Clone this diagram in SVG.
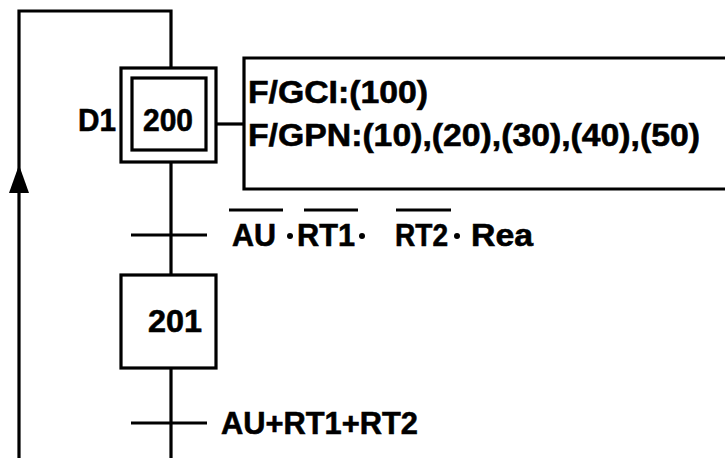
<svg xmlns="http://www.w3.org/2000/svg" width="725" height="458" viewBox="0 0 725 458">
<style>
.ln{stroke:#000;stroke-width:3.2;fill:none}
.bx{stroke:#000;stroke-width:3.2;fill:#fff}
.t{font-family:"Liberation Sans",Arial,sans-serif;font-weight:bold;fill:#000;stroke:#000;stroke-width:0.6}
</style>
<rect width="725" height="458" fill="#fff"/>
<g id="connectors">
<polyline class="ln" points="171,68 171,11 19,11 19,458"/>
<polygon points="19,165 9,193 29,193" fill="#000"/>
<line class="ln" x1="171" y1="162" x2="171" y2="275"/>
<line class="ln" x1="171" y1="368" x2="171" y2="458"/>
<line class="ln" x1="216" y1="124" x2="244" y2="124"/>
</g>
<g id="step200">
<rect class="bx" x="121" y="68" width="95" height="94"/>
<rect class="bx" x="132" y="78" width="74" height="72"/>
<text class="t" x="143" y="131" font-size="32" textLength="50" lengthAdjust="spacingAndGlyphs">200</text>
<text class="t" x="78" y="131" font-size="32" textLength="38" lengthAdjust="spacingAndGlyphs">D1</text>
</g>
<g id="action">
<path class="bx" d="M728,58 H244 V189 H728"/>
<text class="t" x="248" y="103" font-size="32" textLength="180" lengthAdjust="spacingAndGlyphs">F/GCI:(100)</text>
<text class="t" x="248" y="146" font-size="32" textLength="452" lengthAdjust="spacingAndGlyphs">F/GPN:(10),(20),(30),(40),(50)</text>
</g>
<g id="transition1">
<line class="ln" x1="131" y1="235" x2="207" y2="235"/>
<line class="ln" x1="229" y1="210" x2="283" y2="210"/>
<line class="ln" x1="304" y1="210" x2="358" y2="210"/>
<line class="ln" x1="396" y1="210" x2="451" y2="210"/>
<text class="t" x="232" y="246" font-size="32" textLength="44" lengthAdjust="spacingAndGlyphs">AU</text>
<circle cx="290" cy="236" r="3"/>
<text class="t" x="297" y="246" font-size="32" textLength="58" lengthAdjust="spacingAndGlyphs">RT1</text>
<circle cx="362" cy="236" r="3"/>
<text class="t" x="395" y="246" font-size="32" textLength="53" lengthAdjust="spacingAndGlyphs">RT2</text>
<circle cx="457" cy="236" r="3"/>
<text class="t" x="471" y="246" font-size="32" textLength="62" lengthAdjust="spacingAndGlyphs">Rea</text>
</g>
<g id="step201">
<rect class="bx" x="121" y="275" width="95" height="93"/>
<text class="t" x="148" y="332" font-size="32" textLength="54" lengthAdjust="spacingAndGlyphs">201</text>
</g>
<g id="transition2">
<line class="ln" x1="131" y1="423" x2="207" y2="423"/>
<text class="t" x="221" y="434" font-size="32" textLength="197" lengthAdjust="spacingAndGlyphs">AU+RT1+RT2</text>
</g>
</svg>
